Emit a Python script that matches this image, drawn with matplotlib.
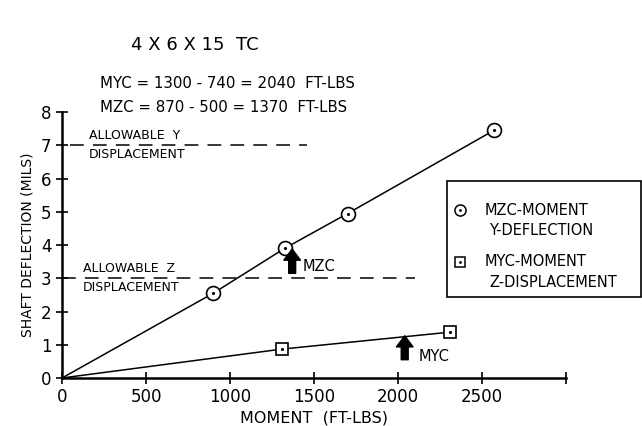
import matplotlib
matplotlib.use("Agg")
import matplotlib.pyplot as plt
import numpy as np

# data
mzc_moment = [0, 900, 1325, 1700, 2570]
y_deflection = [0, 2.55, 3.9, 4.95, 7.45]
myc_moment = [0, 1310, 2310]
z_displacement = [0, 0.87, 1.38]

allow_y = 7
allow_z = 3
mzc = 1370
myc = 2040

xticks = [0, 500, 1000, 1500, 2000, 2500, 3000]
xticklabels = ['0', '500', '1000', '1500', '2000', '2500', '']
yticks = [0, 1, 2, 3, 4, 5, 6, 7, 8]

plt.rcParams['font.family'] = ['DejaVu Sans']
fig = plt.figure(figsize=(6.42, 4.26), dpi=100)
ax = fig.add_axes([0.0966, 0.1127, 0.785, 0.624])

# data lines
ax.plot(mzc_moment, y_deflection, color='black', lw=1.1)
ax.plot(mzc_moment[1:], y_deflection[1:], 'o', ms=10, mfc='white', mec='black', mew=1.2)
ax.plot(mzc_moment[1:], y_deflection[1:], '.', ms=2.5, color='black')
ax.plot(myc_moment, z_displacement, color='black', lw=1.1)
ax.plot(myc_moment[1:], z_displacement[1:], 's', ms=8.5, mfc='white', mec='black', mew=1.2)
ax.plot(myc_moment[1:], z_displacement[1:], '.', ms=2.5, color='black')

# allowable limits
ax.plot([50, 1460], [allow_y, allow_y], color='black', lw=1.1, dashes=(9, 6))
ax.plot([0, 2100], [allow_z, allow_z], color='black', lw=1.1, dashes=(9, 6))
ax.text(160, allow_y + 0.1, 'ALLOWABLE  Y', fontsize=9, va='bottom', ha='left')
ax.text(160, allow_y - 0.08, 'DISPLACEMENT', fontsize=9, va='top', ha='left')
ax.text(125, allow_z + 0.1, 'ALLOWABLE  Z', fontsize=9, va='bottom', ha='left')
ax.text(125, allow_z - 0.08, 'DISPLACEMENT', fontsize=9, va='top', ha='left')

# arrows
ax.annotate('', xy=(mzc, 3.88), xytext=(mzc, 3.15),
            arrowprops=dict(facecolor='black', edgecolor='black', width=5, headwidth=12, headlength=8))
ax.text(mzc + 60, 3.35, 'MZC', fontsize=10.5, va='center')
ax.annotate('', xy=(myc, 1.27), xytext=(myc, 0.55),
            arrowprops=dict(facecolor='black', edgecolor='black', width=5, headwidth=12, headlength=8))
ax.text(myc + 80, 0.65, 'MYC', fontsize=10.5, va='center')

ax.set_xlim(0, 3000)
ax.set_ylim(0, 8)
ax.set_xticks(xticks)
ax.set_xticklabels(xticklabels)
ax.set_yticks(yticks)
ax.tick_params(direction='inout', length=8, width=1.2, labelsize=12)
ax.spines['top'].set_visible(False)
ax.spines['right'].set_visible(False)
ax.spines['left'].set_linewidth(1.8)
ax.spines['bottom'].set_linewidth(1.8)
ax.set_xlabel('MOMENT  (FT-LBS)', fontsize=11.5, labelpad=3)
ax.set_ylabel('SHAFT DEFLECTION (MILS)', fontsize=10, labelpad=5)

fig.text(0.304, 0.895, '4 X 6 X 15  TC', fontsize=13, ha='center', va='center')
fig.text(0.155, 0.803, 'MYC = 1300 - 740 = 2040  FT-LBS', fontsize=10.8, ha='left', va='center')
fig.text(0.155, 0.747, 'MZC = 870 - 500 = 1370  FT-LBS', fontsize=10.8, ha='left', va='center')

# legend box drawn in figure coords
fig.patches.append(plt.Rectangle((0.696, 0.303), 0.302, 0.272, transform=fig.transFigure,
                                 fill=False, edgecolor='black', lw=1.2))
fig.lines.append(plt.Line2D([0.717], [0.506], marker='o', ms=8, mfc='white', mec='black', mew=1.1,
                            transform=fig.transFigure))
fig.lines.append(plt.Line2D([0.717], [0.506], marker='.', ms=2, color='black', transform=fig.transFigure))
fig.lines.append(plt.Line2D([0.717], [0.385], marker='s', ms=7, mfc='white', mec='black', mew=1.1,
                            transform=fig.transFigure))
fig.lines.append(plt.Line2D([0.717], [0.385], marker='.', ms=2, color='black', transform=fig.transFigure))
fig.text(0.755, 0.506, 'MZC-MOMENT', fontsize=10.5, va='center')
fig.text(0.762, 0.458, 'Y-DEFLECTION', fontsize=10.5, va='center')
fig.text(0.755, 0.385, 'MYC-MOMENT', fontsize=10.5, va='center')
fig.text(0.762, 0.337, 'Z-DISPLACEMENT', fontsize=10.5, va='center')

fig.savefig('out.png', dpi=100)
